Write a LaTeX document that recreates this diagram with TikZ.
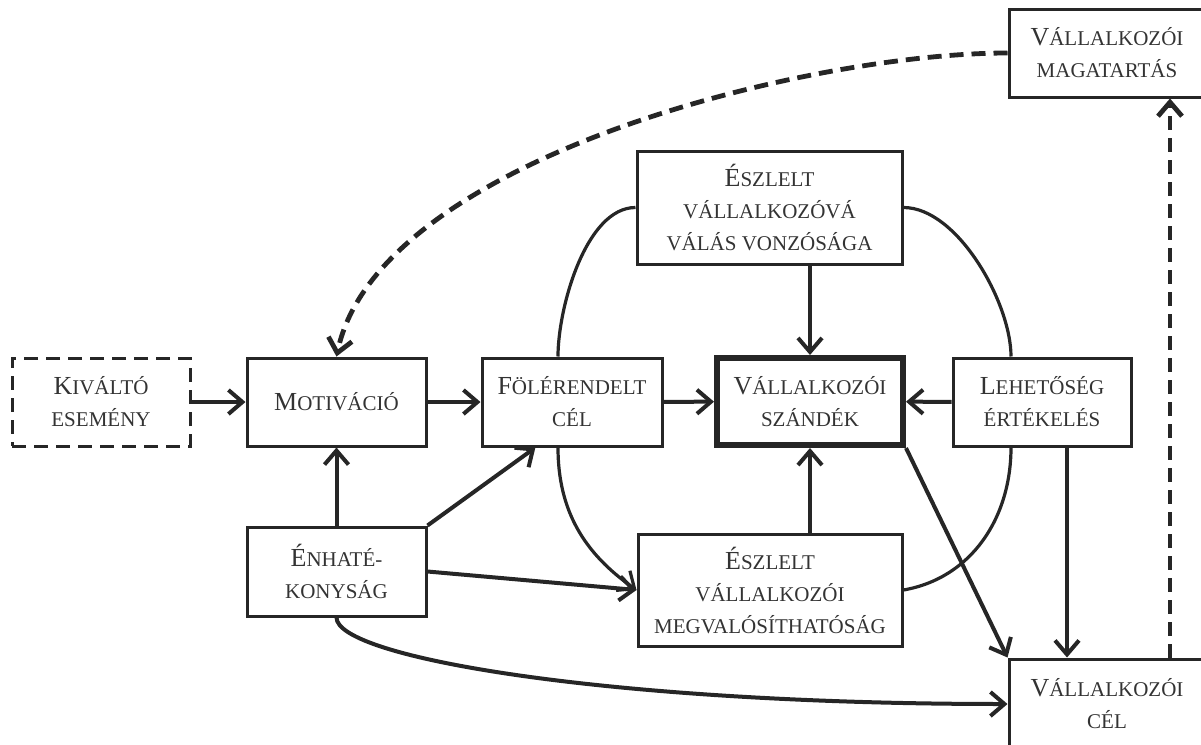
\documentclass[tikz,border=0pt]{standalone}
\usepackage{fontspec}
\setmainfont{Liberation Serif}
\usetikzlibrary{arrows.meta,calc}
\newcommand\kis[1]{{\fontsize{10.5}{16}\selectfont #1}}
\begin{document}
\begin{tikzpicture}[x=0.5pt,y=-0.5pt,
    doboz/.style={draw=black!85,line width=1.5pt,inner sep=0pt,align=center,
      text=black!80,font=\fontsize{13}{16}\selectfont},
    nyil/.style={draw=black!85,line width=2pt,-{Straight Barb[length=7pt,width=12pt]}},
    iv/.style={draw=black!85,line width=1.6pt},
    szagg/.style={dash pattern=on 7pt off 4pt}]
    \useasboundingbox (0,0) rectangle (1201,745);
    % dobozok
    \node[doboz,szagg,minimum width=89pt,minimum height=44pt] (kivalto) at (101,402) {K\kis{IVÁLTÓ}\\\kis{ESEMÉNY}};
    \node[doboz,minimum width=89.5pt,minimum height=44pt] (motiv) at (336.5,402) {M\kis{OTIVÁCIÓ}};
    \node[doboz,minimum width=90pt,minimum height=44pt] (fol) at (572,402) {F\kis{ÖLÉRENDELT}\\\kis{CÉL}};
    \node[doboz,line width=3pt,minimum width=93pt,minimum height=43.5pt] (szand) at (810,401.5) {V\kis{ÁLLALKOZÓI}\\\kis{SZÁNDÉK}};
    \node[doboz,minimum width=89pt,minimum height=44pt] (leh) at (1042,402) {L\kis{EHETŐSÉG}\\\kis{ÉRTÉKELÉS}};
    \node[doboz,minimum width=132.5pt,minimum height=56.5pt] (vonz) at (769.5,207.5) {É\kis{SZLELT}\\\kis{VÁLLALKOZÓVÁ}\\\kis{VÁLÁS VONZÓSÁGA}};
    \node[doboz,minimum width=132pt,minimum height=56pt] (megval) at (770,590) {É\kis{SZLELT}\\\kis{VÁLLALKOZÓI}\\\kis{MEGVALÓSÍTHATÓSÁG}};
    \node[doboz,minimum width=89.5pt,minimum height=44.5pt] (enhat) at (336.5,571.5) {É\kis{NHATÉ-}\\\kis{KONYSÁG}};
    \node[doboz,minimum width=98pt,minimum height=44pt] (mag) at (1107,53) {V\kis{ÁLLALKOZÓI}\\\kis{MAGATARTÁS}};
    \node[doboz,minimum width=98pt,minimum height=45pt] (cel) at (1107,704) {V\kis{ÁLLALKOZÓI}\\\kis{CÉL}};
    % nyilak
    \draw[nyil] (kivalto) -- (motiv);
    \draw[nyil] (motiv) -- (fol);
    \draw[nyil] (fol) -- (szand);
    \draw[nyil] (leh) -- (szand);
    \draw[nyil] (vonz.south -| szand.north) -- (szand.north);
    \draw[nyil] (megval.north -| szand.south) -- (szand.south);
    \draw[nyil] (enhat) -- (motiv);
    \draw[nyil] (enhat.north east) -- ($(fol.south west)!0.3!(fol.south east)$);
    \draw[nyil] (enhat.east) -- (megval.west);
    \draw[nyil] (enhat.south) .. controls +(0,40) and +(-400,0) .. (cel.west);
    \draw[nyil] (szand.south east) -- (cel.north west);
    \draw[nyil] ([xshift=12.5pt]leh.south) -- ([xshift=12.5pt]leh.south |- cel.north);
    \draw[nyil,szagg,line width=2.4pt] ([xshift=31.5pt]cel.north) -- ([xshift=31.5pt]mag.south);
    \draw[nyil,szagg,line width=2.4pt] (mag.west) to[out=180,in=78,looseness=0.7] (motiv.north);
    % ivek
    \draw[iv] (vonz.west) to[out=180,in=90,looseness=0.75] ([xshift=-7pt]fol.north);
    \draw[iv] (vonz.east) to[out=0,in=90,looseness=0.75] ([xshift=-15.5pt]leh.north);
    \draw[iv,-{Straight Barb[length=7pt,width=12pt]}] ([xshift=-7pt]fol.south) to[out=-90,in=145] (megval.west);
    \draw[iv] ([xshift=-15.5pt]leh.south) to[out=-90,in=10] (megval.east);
\end{tikzpicture}
\end{document}
